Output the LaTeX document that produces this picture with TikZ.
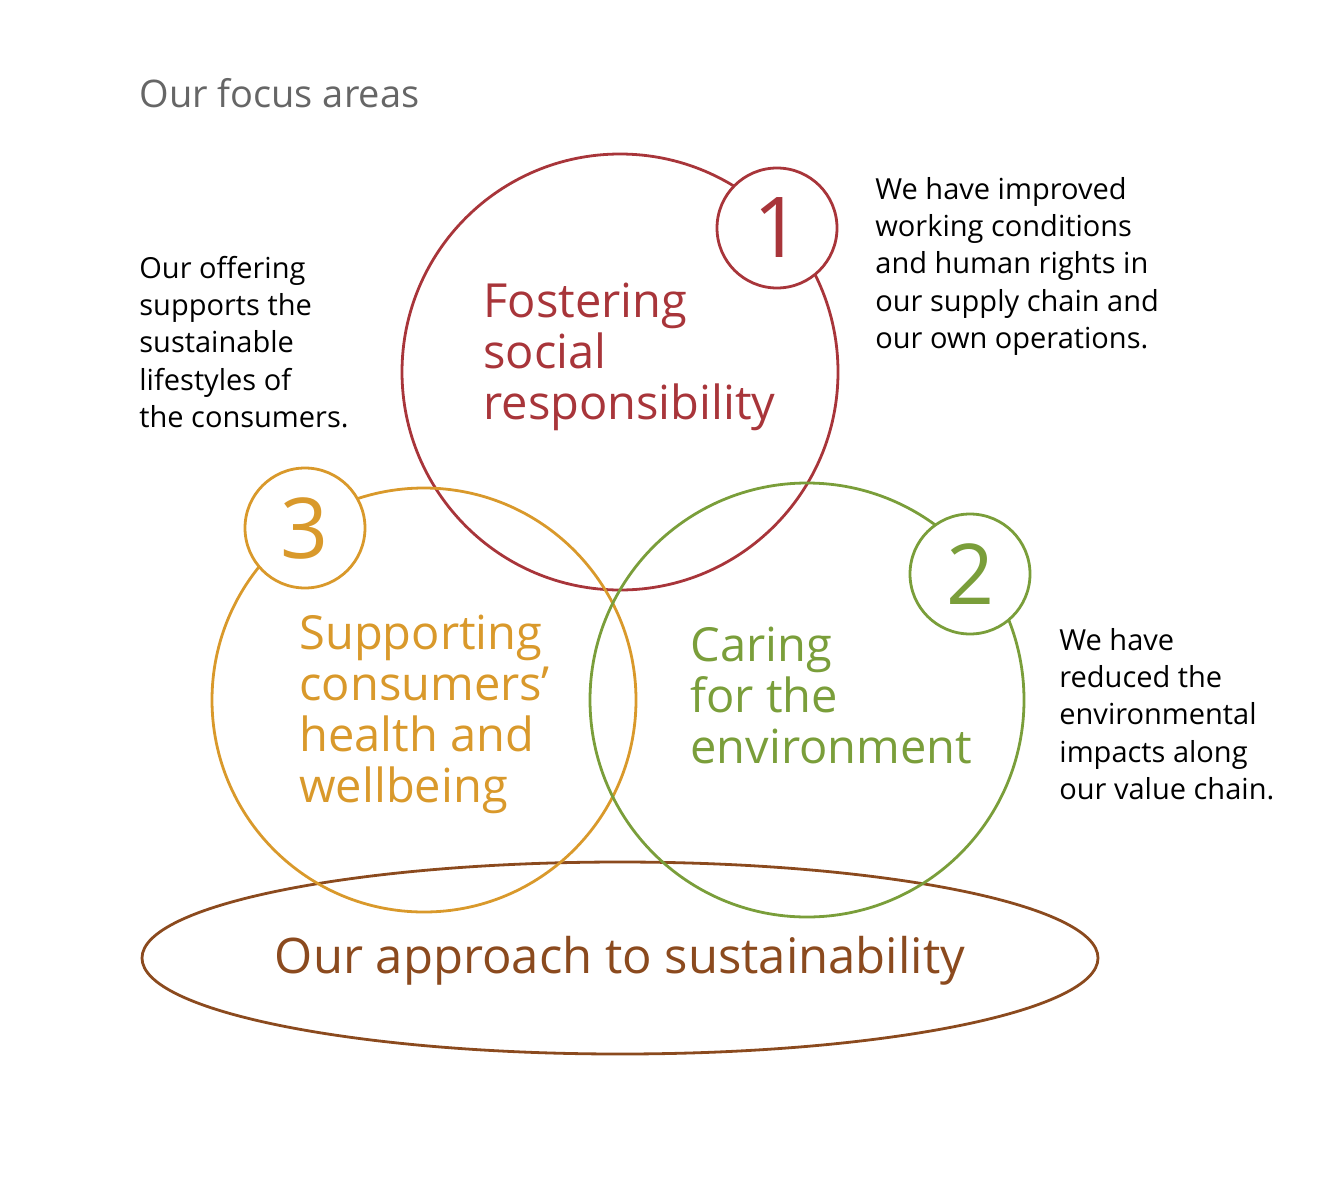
\documentclass[tikz,border=0pt]{standalone}
\usepackage{fontspec}
\setmainfont{Open Sans}
\definecolor{cred}{HTML}{A8353A}
\definecolor{corange}{HTML}{D9992B}
\definecolor{cgreen}{HTML}{7A9E3A}
\definecolor{cbrown}{HTML}{8B4A1E}
\definecolor{cgray}{HTML}{666666}
\begin{document}
\begin{tikzpicture}[x=0.5pt,y=-0.5pt,
  ring/.style={draw,line width=1.4pt},
  numc/.style={circle,line width=1.4pt,fill=white,minimum size=60pt,inner sep=0pt,font=\fontsize{42}{42}\selectfont},
  body/.style={anchor=north west,inner sep=0pt,align=left,font=\fontsize{14.5}{18.6}\selectfont},
  big/.style={anchor=north west,inner sep=0pt,align=left,font=\fontsize{23.5}{25.5}\selectfont}]
\useasboundingbox (0,0) rectangle (1320,1188);
\node[anchor=north west,inner sep=0pt,text=cgray,font=\fontsize{19}{22}\selectfont] (title) at (139,78) {Our focus areas};
\draw[ring,cbrown] (620,958) ellipse [x radius=478, y radius=96];
\node[ring,cred,circle,minimum size=218pt] (red) at (620,372) {};
\draw[ring,corange] (424,700) circle [radius=212];
\draw[ring,cgreen] (807,700) circle [radius=217];
\node[numc,draw=cred,text=cred] (n1) at (777,228) {1};
\node[numc,draw=corange,text=corange] (n3) at (305,528) {3};
\node[numc,draw=cgreen,text=cgreen] (n2) at (970,574) {2};
\node[big,text=cred] (fs) at (483,283) {Fostering\\social\\responsibility};
\node[big,text=corange] (sc) at (299,615) {Supporting\\consumers’\\health and\\wellbeing};
\node[big,text=cgreen] (ce) at (690,627) {Caring\\for the\\environment};
\node[inner sep=0pt,text=cbrown,font=\fontsize{24.5}{26}\selectfont] (oa) at (620,961) {Our approach to sustainability};
\node[body] (t1) at (875,177) {We have improved\\working conditions\\and human rights in\\our supply chain and\\our own operations.};
\node[body] (t3) at (139,256) {Our offering\\supports the\\sustainable\\lifestyles of\\the consumers.};
\node[body] (t2) at (1059,628) {We have\\reduced the\\environmental\\impacts along\\our value chain.};
\end{tikzpicture}
\end{document}
